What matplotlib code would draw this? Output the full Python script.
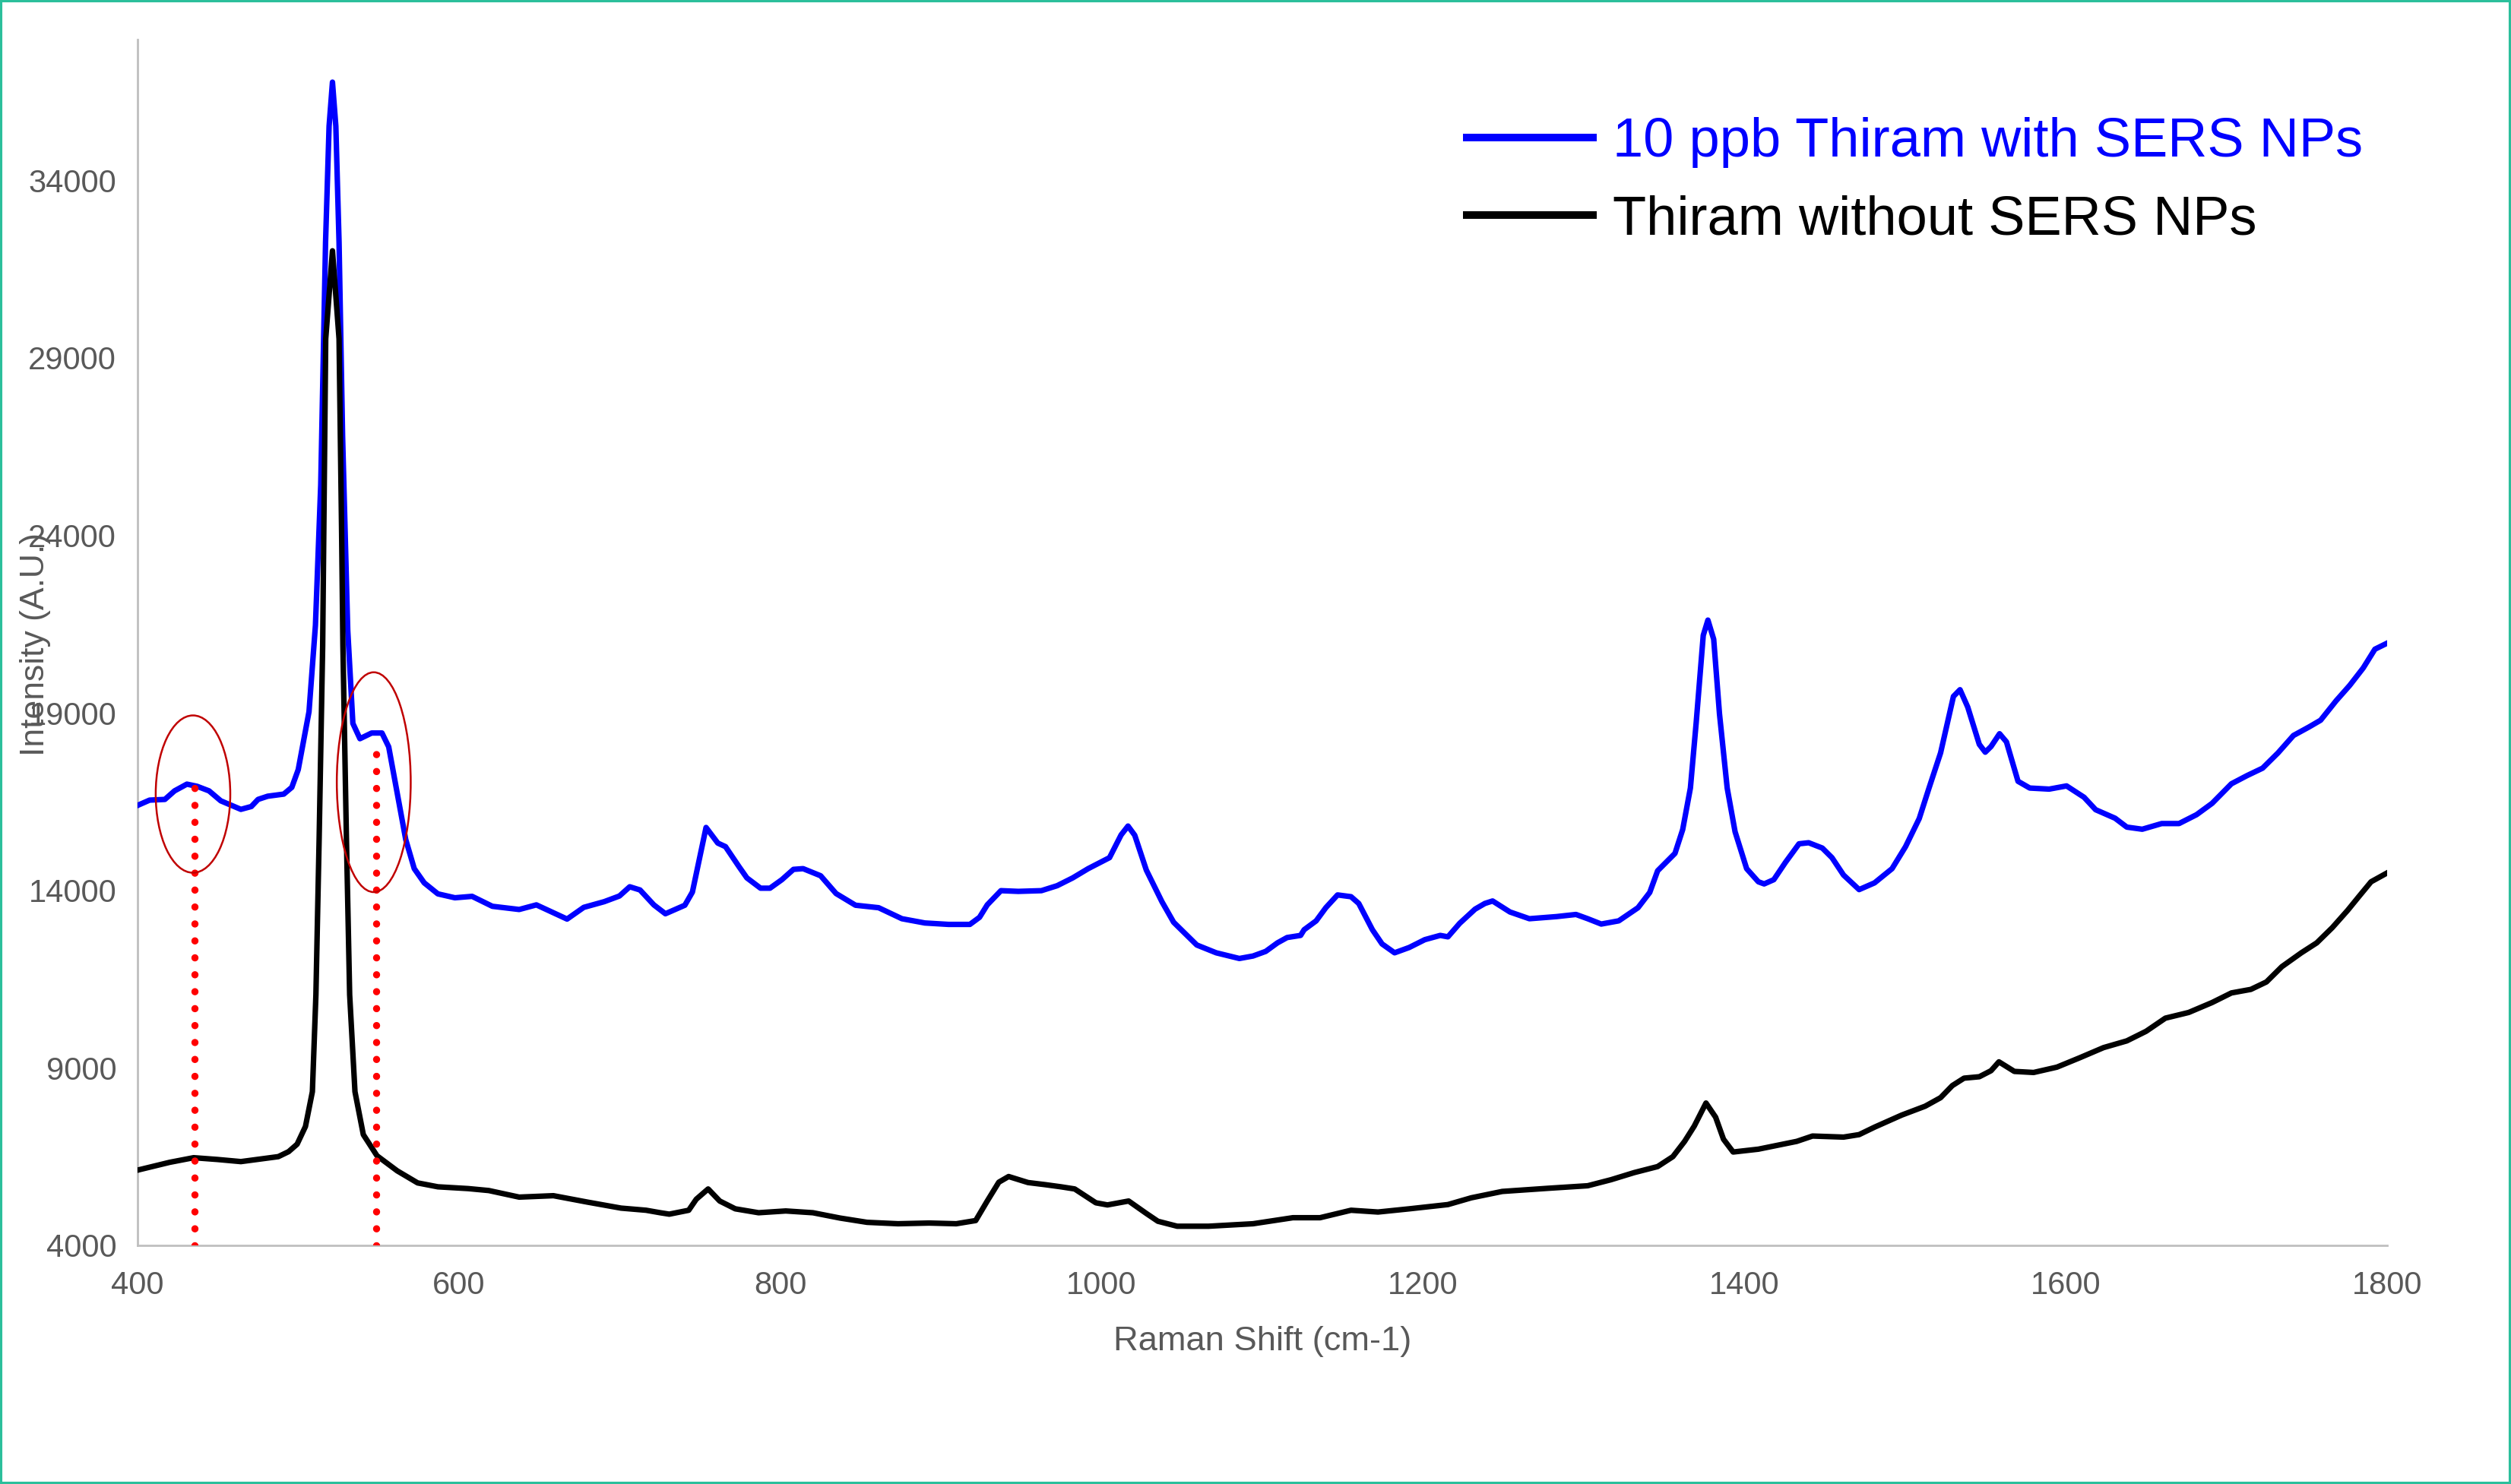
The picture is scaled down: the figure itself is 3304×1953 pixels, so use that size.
import matplotlib
matplotlib.use("Agg")
import matplotlib.pyplot as plt
from matplotlib.patches import Ellipse, Rectangle

plt.rcParams['font.family'] = ['Liberation Sans', 'DejaVu Sans']

# ---------------- data ----------------
sers_x = [400, 407.5, 417, 423, 430.7, 437, 444.5, 451.8, 464.3, 470.8, 475, 481, 491, 496, 500,
          506.7, 510.7, 512.9, 514, 517, 519.2, 521.3, 523.4, 525.4, 527.6, 530.8, 534, 538.4,
          545.7, 552.1, 556.3, 561.6, 566.9, 572.2, 578.4, 586.9, 597.5, 608.2, 620.8, 637.5,
          648.2, 667.3, 677.7, 690.4, 699.9, 706.3, 712.7, 721.3, 728.5, 740.6, 745.3, 753.8,
          761.1, 765.9, 774.4, 779.2, 787.7, 793.6, 801, 808.2, 814.2, 825.1, 834.7, 846.8,
          861.2, 875.7, 890, 904.7, 918, 924, 928.8, 937.3, 948.1, 962.5, 972.3, 982, 991.6,
          1004.9, 1012.1, 1016.4, 1020.6, 1027.8, 1037.5, 1044.8, 1059.2, 1071.3, 1085.7,
          1094.2, 1102.1, 1109.4, 1115.4, 1123.8, 1126, 1133.5, 1139.5, 1146.8, 1155.2, 1160,
          1168.5, 1174.5, 1182.3, 1191.4, 1201.1, 1210.7, 1215.5, 1222.8, 1232.4, 1238.5,
          1243.3, 1254.1, 1266.2, 1283.1, 1295.2, 1302.5, 1310.9, 1321.8, 1333.8, 1341.1, 1346,
          1356.8, 1361.6, 1366.4, 1370, 1374.4, 1377.3, 1380.9, 1384.5, 1389.3, 1394.2, 1401.4,
          1408.7, 1412.3, 1418.3, 1425.6, 1434, 1440, 1448.5, 1454.5, 1461.7, 1471.4, 1481,
          1491.9, 1500.3, 1508.8, 1514.9, 1522.1, 1530.1, 1534.2, 1539, 1546.2, 1549.9, 1553.5,
          1558.8, 1563.1, 1570.3, 1577.6, 1589.7, 1600.5, 1611.4, 1618.6, 1630.7, 1638, 1647.6,
          1659.7, 1670.5, 1681.4, 1691.1, 1703.1, 1712.8, 1722.5, 1732.1, 1741.7, 1751.4,
          1758.6, 1768.3, 1776.7, 1785.1, 1792.4, 1800]
sers_y = [16391, 16540, 16560, 16800, 16990, 16930, 16800, 16520, 16280, 16360, 16560, 16650, 16710, 16900, 17400,
          19030, 21460, 24060, 25420, 32250, 35520, 36760, 35520, 32250, 26790, 21330, 18700, 18270,
          18430, 18430, 18040, 16740, 15430, 14610, 14210, 13900, 13790, 13830, 13550, 13460,
          13590, 13190, 13520, 13680, 13840, 14100, 14010, 13590, 13340, 13580, 13950, 15770,
          15330, 15230, 14660, 14350, 14060, 14060, 14300, 14590, 14610, 14410, 13910, 13580,
          13510, 13200, 13080, 13040, 13040, 13240, 13590, 13990, 13970, 13990, 14130, 14350, 14610,
          14920, 15560, 15810, 15550, 14570, 13680, 13100, 12460, 12240, 12080,
          12150, 12280, 12520, 12670, 12730, 12890, 13140, 13510, 13870, 13820, 13630,
          12890, 12490, 12240, 12390, 12610, 12730, 12690, 13070, 13470, 13630,
          13700, 13390, 13200, 13260, 13320, 13200, 13050, 13140, 13510, 13940, 14550,
          15040, 15710, 16880, 18720, 21180, 21610, 21070, 18970, 16880, 15650, 14610,
          14240, 14180, 14300, 14790, 15310, 15340, 15190, 14920, 14430, 14020, 14210,
          14610, 15230, 16020, 16880, 17870, 19460, 19650, 19160, 18110, 17890, 18050,
          18410, 18180, 17070, 16880, 16850, 16940, 16620, 16270, 16030, 15780, 15720,
          15880, 15880, 16130, 16450, 17000, 17230, 17440, 17870, 18360, 18600,
          18790, 19340, 19770, 20260, 20790, 20960]

plain_x = [400, 420, 434.9, 449.7, 464.3, 479.3, 487.6, 494, 499.3, 504.5, 508.8, 511, 513, 515.2,
           515.9, 517.1, 521.3, 525.4, 527, 527.8, 530, 532, 535.3, 540.5, 549, 561.6, 574.3,
           586.9, 605.8, 618.6, 637.5, 658.8, 679.9, 700.9, 716.5, 725.3, 730.9, 743, 747.7,
           755.1, 762.3, 772, 786.5, 803.4, 820.3, 837.2, 854, 873.3, 892.6, 909.5, 921.6,
           928.8, 936, 942.1, 954.2, 965, 974.7, 983.2, 996.4, 1003.6, 1016.8, 1027.8, 1035,
           1047, 1066.5, 1094.2, 1119, 1135.9, 1155.2, 1172, 1191.4, 1215.5, 1230, 1249.3,
           1278.3, 1302.5, 1317, 1331.4, 1346, 1355.5, 1362.8, 1368.8, 1376.1, 1382.1, 1387,
           1393, 1408.7, 1432.6, 1442.4, 1461.7, 1471.4, 1481, 1497.9, 1512.5, 1522.1, 1529.4,
           1536.7, 1546.2, 1553.5, 1558.4, 1568, 1580, 1594.5, 1609, 1623.5, 1638, 1650, 1662,
           1676.5, 1691.1, 1703.1, 1715.2, 1724.9, 1734.5, 1746.6, 1756.2, 1765.9, 1775.5,
           1782.7, 1790, 1800]
plain_y = [6120, 6340, 6470, 6420, 6360, 6450, 6500, 6640, 6850, 7350, 8330, 11060, 15430, 20880,
           24060, 29530, 32010, 29530, 24060, 20880, 15430, 11060, 8330, 7120, 6525, 6100, 5760,
           5650, 5600, 5545, 5360, 5400, 5220, 5050, 4990, 4920, 4880, 4990, 5300,
           5590, 5250, 5030, 4920, 4970, 4920, 4770, 4650, 4610, 4630, 4610, 4700,
           5250, 5780, 5940, 5770, 5710, 5650, 5590, 5200, 5140, 5250, 4900, 4680,
           4540, 4540, 4610, 4780, 4780, 4990, 4940, 5030, 5150, 5340, 5520,
           5610, 5680, 5850, 6050, 6220, 6500, 6930, 7360, 8010, 7610, 6990,
           6630, 6710, 6930, 7080, 7050, 7120, 7330, 7670, 7920, 8160, 8500,
           8710, 8750, 8920, 9170, 8900, 8870, 9020, 9290, 9570, 9760, 10030, 10400,
           10560, 10840, 11110, 11210, 11420, 11850, 12240, 12520, 12950, 13440,
           13840, 14240, 14490]

series_labels = ["10 ppb Thiram with SERS NPs", "Thiram without SERS NPs"]

# highlighted bands (dotted guide lines and circled regions)
guide_x = [435.6, 548.7]
guide_top = [17270, 18300]
ellipse_cx = [434.5, 547.0]
ellipse_cy = [16710, 17045]
ellipse_w = [46.4, 46.0]
ellipse_h = [4430, 6190]

x_ticks = [400, 600, 800, 1000, 1200, 1400, 1600, 1800]
y_ticks = [4000, 9000, 14000, 19000, 24000, 29000, 34000]

# ---------------- figure ----------------
W, H, DPI = 3304, 1953, 200
fig = plt.figure(figsize=(W / DPI, H / DPI), dpi=DPI)
ax = fig.add_axes([181 / W, 1 - 1639 / H, (3141 - 181) / W, (1639 - 52) / H])

ax.plot(sers_x, sers_y, color='#0000FF', lw=2.6, label=series_labels[0], zorder=3,
        solid_joinstyle='round')
ax.plot(plain_x, plain_y, color='black', lw=2.6, label=series_labels[1], zorder=3,
        solid_joinstyle='round')

for gx, gt in zip(guide_x, guide_top):
    ax.plot([gx, gx], [4000, gt], color='#FF0000', lw=3.4,
            linestyle=(0, (0.01, 2.35)), dash_capstyle='round', zorder=4)

for cx, cy, ew, eh in zip(ellipse_cx, ellipse_cy, ellipse_w, ellipse_h):
    ax.add_patch(Ellipse((cx, cy), ew, eh, fill=False, edgecolor='#C00000', lw=0.9, zorder=5))

ax.set_xlim(400, 1800)
ax.set_ylim(4000, 37960)
ax.set_xticks(x_ticks)
ax.set_yticks(y_ticks)
ax.tick_params(axis='both', length=0, labelsize=15, labelcolor='#595959')
ax.tick_params(axis='x', pad=12)
ax.tick_params(axis='y', pad=10)

for s in ['top', 'right']:
    ax.spines[s].set_visible(False)
for s in ['left', 'bottom']:
    ax.spines[s].set_color('#BFBFBF')
    ax.spines[s].set_linewidth(1.0)

ax.set_xlabel("Raman Shift (cm-1)", fontsize=16.3, color='#595959')
ax.xaxis.set_label_coords(0.5, -0.0668)
ax.set_ylabel("Intensity (A.U.)", fontsize=16, color='#595959')
ax.yaxis.set_label_coords(-0.0385, 0.4984)

leg = ax.legend(loc='upper left', bbox_to_anchor=(1930 / W, 1 - 154 / H),
                bbox_transform=fig.transFigure, frameon=False, fontsize=26,
                handlelength=2.3, handletextpad=0.36, labelspacing=0.49,
                borderpad=0, borderaxespad=0, labelcolor='linecolor')
for line in leg.get_lines():
    line.set_linewidth(3.6)

fig.patches.append(Rectangle((0, 0), 1, 1, transform=fig.transFigure, fill=False,
                             edgecolor='#2BBF9B', lw=2.2, zorder=10))

fig.savefig("out.png", dpi=DPI, facecolor='white')
